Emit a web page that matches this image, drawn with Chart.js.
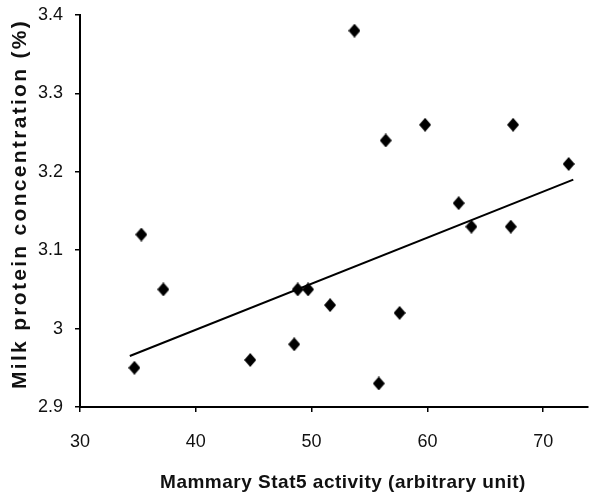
<!DOCTYPE html>
<html>
<head>
<meta charset="utf-8">
<script src="https://cdn.jsdelivr.net/npm/chart.js@4/dist/chart.umd.min.js"></script>
<style>
  body { margin: 0; background: #fff; }
  canvas { display: block; }
</style>
</head>
<body>
<canvas id="chart" width="595" height="499"></canvas>
<script>
// Stat5 activity vs milk protein
const stat5 = [34.7, 35.3, 37.2, 44.7, 48.5, 48.8, 49.7, 51.6, 53.7, 55.8, 56.4, 57.6, 59.8, 62.7, 63.8, 67.2, 67.4, 72.2];
const protein = [2.95, 3.12, 3.05, 2.96, 2.98, 3.05, 3.05, 3.03, 3.38, 2.93, 3.24, 3.02, 3.26, 3.16, 3.13, 3.13, 3.26, 3.21];

// fitted line end points
const fitX = [34.3, 72.6];
const fitY = [2.965, 3.19];

const xTicks = [30, 40, 50, 60, 70];
const yTicks = [2.9, 3.0, 3.1, 3.2, 3.3, 3.4];

const xTitle = 'Mammary Stat5 activity (arbitrary unit)';
const yTitle = 'Milk protein concentration (%)';

const font = "'Liberation Sans', Arial, Helvetica, sans-serif";

// little diamond marker, a bit taller than wide
const diamond = document.createElement('canvas');
diamond.width = 12;
diamond.height = 14;
(function () {
    const c = diamond.getContext('2d');
    c.fillStyle = '#000';
    c.beginPath();
    c.moveTo(6, 0);
    c.lineTo(12, 7);
    c.lineTo(6, 14);
    c.lineTo(0, 7);
    c.closePath();
    c.fill();
})();

// axis titles drawn by hand so the letter spacing can follow the scan
const titles = {
    id: 'axisTitles',
    afterDraw: (chart) => {
        const { ctx } = chart;
        ctx.save();
        ctx.fillStyle = '#111';
        ctx.textAlign = 'center';
        ctx.textBaseline = 'alphabetic';

        ctx.font = "bold 19px " + font;
        ctx.letterSpacing = '0.5px';
        ctx.fillText(xTitle, 343, 488);

        ctx.translate(26, 204);
        ctx.rotate(-Math.PI / 2);
        ctx.font = "bold 21px " + font;
        ctx.letterSpacing = '2.3px';
        ctx.fillText(yTitle, 0, 0);
        ctx.restore();
    }
};

const points = stat5.map((v, i) => ({ x: v, y: protein[i] }));
const fit = fitX.map((v, i) => ({ x: v, y: fitY[i] }));

const ctx = document.getElementById('chart');
new Chart(ctx, {
    type: 'scatter',
    data: {
        datasets: [{
            label: 'samples',
            data: points,
            pointStyle: diamond,
            pointRadius: 6,
            backgroundColor: '#000',
            borderColor: '#000',
        }, {
            type: 'line',
            label: 'fit',
            data: fit,
            borderColor: '#000',
            borderWidth: 2,
            pointRadius: 0,
            fill: false,
        }],
    },
    options: {
        responsive: false,
        animation: false,
        layout: {
            padding: { top: 15, right: -3, left: 0, bottom: 0 }
        },
        plugins: {
            legend: { display: false },
            tooltip: { enabled: false },
        },
        scales: {
            x: {
                type: 'linear',
                min: 30,
                max: 73.87,
                afterBuildTicks: (axis) => {
                    axis.ticks = xTicks.map(v => ({ value: v }));
                },
                afterFit: (axis) => {
                    axis.height = 92;
                    axis.paddingLeft = 0;
                    axis.paddingRight = 0;
                },
                grid: {
                    drawOnChartArea: false,
                    drawTicks: true,
                    tickLength: 5,
                    color: '#000',
                    lineWidth: 1.5,
                },
                border: { color: '#000', width: 2 },
                ticks: {
                    color: '#111',
                    padding: 19,
                    font: { family: font, size: 18 },
                },
            },
            y: {
                type: 'linear',
                min: 2.9,
                max: 3.4,
                afterBuildTicks: (axis) => {
                    axis.ticks = yTicks.map(v => ({ value: v }));
                },
                afterFit: (axis) => {
                    axis.width = 80;
                    axis.paddingTop = 0;
                    axis.paddingBottom = 0;
                },
                grid: {
                    drawOnChartArea: false,
                    drawTicks: true,
                    tickLength: 5,
                    color: '#000',
                    lineWidth: 1.5,
                },
                border: { color: '#000', width: 2 },
                ticks: {
                    color: '#111',
                    padding: 12,
                    font: { family: font, size: 18 },
                    callback: (v) => String(Math.round(v * 10) / 10),
                },
            },
        },
    },
    plugins: [titles],
});
</script>
</body>
</html>
